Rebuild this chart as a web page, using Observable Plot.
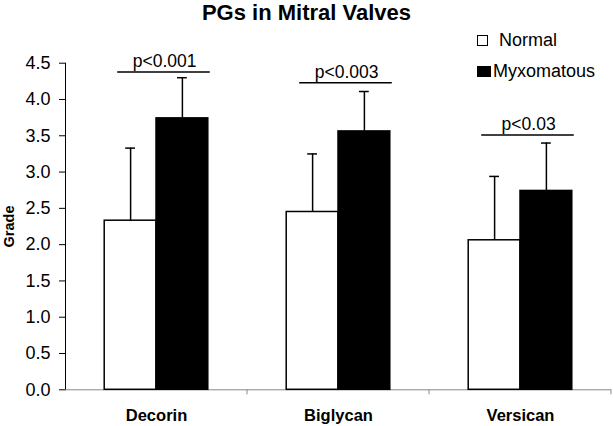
<!DOCTYPE html>
<html>
<head>
<meta charset="utf-8">
<script src="https://cdn.jsdelivr.net/npm/d3@7"></script>
<script src="https://cdn.jsdelivr.net/npm/@observablehq/plot@0.6"></script>
<style>
  html, body { margin: 0; padding: 0; background: white; }
  #wrap { position: relative; width: 613px; height: 426px; font-family: "Liberation Sans", Arial, sans-serif; color: black; }
  #title { height: 26px; line-height: 25px; text-align: center; font-weight: bold; font-size: 22px; }
  .leg { position: absolute; left: 477px; font-size: 18px; line-height: 18px; white-space: nowrap; }
  .sw { display: inline-block; vertical-align: baseline; box-sizing: border-box; height: 11px; }
  svg text { font-family: "Liberation Sans", Arial, sans-serif; }
  g[aria-label="fx-axis tick label"] text { font-weight: bold; font-size: 16.5px; }
  g[aria-label="y-axis tick label"] text { font-size: 18px; }
  g[aria-label="y-axis label"] text { font-weight: bold; font-size: 14.5px; }
  g[aria-label="y-axis tick"] { stroke: #888; }
  g[aria-label="y-axis line"] { stroke: #888; }
</style>
</head>
<body>
<div id="wrap">
  <div id="title">PGs in Mitral Valves</div>
</div>
<script>
const title = "PGs in Mitral Valves";
const yLabel = "Grade";
const categories = ["Decorin", "Biglycan", "Versican"];
const series = ["Normal", "Myxomatous"];
const seriesColors = ["white", "black"];
const normalMean = [2.33, 2.45, 2.06];
const normalSD = [1.00, 0.80, 0.88];
const myxoMean = [3.74, 3.56, 2.74];
const myxoSD = [0.56, 0.55, 0.66];
const pLabels = ["p<0.001", "p<0.003", "p<0.03"];
const pLineY = [4.38, 4.23, 3.51];
const yTicks = [0, 0.5, 1, 1.5, 2, 2.5, 3, 3.5, 4, 4.5];

const rows = categories.flatMap((c, i) => [
  {category: c, series: series[0], value: normalMean[i], sd: normalSD[i]},
  {category: c, series: series[1], value: myxoMean[i], sd: myxoSD[i]}
]);
const pRows = categories.map((c, i) => ({category: c, y: pLineY[i], label: pLabels[i]}));

const chart = Plot.plot({
  width: 613,
  height: 400,
  marginLeft: 64,
  marginRight: 1,
  marginTop: 36.7,
  marginBottom: 36.7,
  style: {fontFamily: "Liberation Sans, Arial, sans-serif", fontSize: "17.5px", color: "black", background: "white", overflow: "visible"},
  fx: {domain: categories, padding: 0, axis: "bottom", label: null, tickSize: 0, tickPadding: 19},
  x: {domain: series, paddingInner: 0, paddingOuter: 0.757, axis: null, round: false},
  y: {domain: [0, 4.5], ticks: yTicks, tickFormat: d3.format(".1f"), tickSize: 6, tickPadding: 9, label: yLabel, labelAnchor: "center", labelArrow: "none", labelOffset: 62, line: true},
  color: {domain: series, range: seriesColors},
  marks: [
    Plot.ruleY([0], {stroke: "#888"}),
    Plot.ruleX(rows, {fx: "category", x: "series", y1: "value", y2: d => d.value + d.sd, stroke: "black", strokeWidth: 1.5}),
    Plot.tickY(rows, {fx: "category", x: "series", y: d => d.value + d.sd, stroke: "black", strokeWidth: 1.5, insetLeft: 21, insetRight: 21}),
    Plot.barY(rows, {fx: "category", x: "series", y: "value", fill: "series", stroke: "black", strokeWidth: 1.5}),
    Plot.ruleY(pRows, {fx: "category", x1: () => series[0], x2: () => series[1], y: "y", stroke: "black", strokeWidth: 1.5, insetLeft: 13, insetRight: -2}),
    Plot.text(pRows, {fx: "category", x: () => series[0], y: "y", text: "label", dx: 34, dy: -5, lineAnchor: "bottom", fontSize: 17.5, fill: "black"})
  ]
});

// boundary ticks on the category axis, placed with the plot's own scales
const fxS = chart.scale("fx");
const yS = chart.scale("y");
const y0 = yS.apply(0);
d3.select(chart).append("g").attr("aria-label", "fx-boundary ticks")
  .selectAll("line").data(categories).join("line")
  .attr("x1", c => fxS.apply(c) + fxS.bandwidth)
  .attr("x2", c => fxS.apply(c) + fxS.bandwidth)
  .attr("y1", y0).attr("y2", y0 + 5)
  .attr("stroke", "#888");

const wrap = document.getElementById("wrap");
wrap.appendChild(chart);

// legend
const legTops = [31, 62];
const swW = [11, 14];
const gaps = [11, 2];
series.forEach((s, i) => {
  const div = document.createElement("div");
  div.className = "leg";
  div.style.top = legTops[i] + "px";
  const sw = document.createElement("span");
  sw.className = "sw";
  sw.style.width = swW[i] + "px";
  sw.style.background = seriesColors[i];
  sw.style.border = "1.5px solid black";
  const t = document.createElement("span");
  t.textContent = s;
  t.style.marginLeft = gaps[i] + "px";
  div.appendChild(sw);
  div.appendChild(t);
  wrap.appendChild(div);
});
</script>
</body>
</html>
